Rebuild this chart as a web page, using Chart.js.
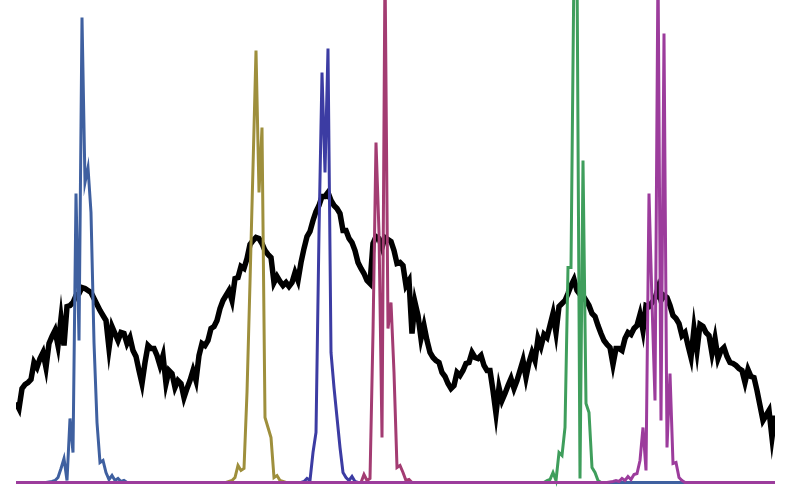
<!DOCTYPE html>
<html>
<head>
<meta charset="utf-8">
<script src="https://cdn.jsdelivr.net/npm/chart.js@4.4.1/dist/chart.umd.min.js"></script>
<style>
  html, body { margin: 0; padding: 0; background: #ffffff; }
  #wrap { width: 789px; height: 487px; position: relative; }
</style>
</head>
<body>
<div id="wrap"><canvas id="lineChart"></canvas></div>
<script>
// total signal, one value per sample
const total = [
  80, 74, 94, 98, 100, 103, 120, 115, 124, 130, 115, 139, 146, 152, 137, 164, 137, 176, 177, 180,
  187, 189, 195, 194, 192, 190, 184, 178, 172, 167, 162, 134, 156, 149, 142, 150, 149, 139, 145, 132,
  126, 112, 99, 120, 137, 134, 134, 127, 117, 127, 99, 112, 109, 95, 102, 99, 85, 94, 102, 112,
  102, 127, 139, 137, 142, 154, 156, 162, 174, 182, 187, 192, 182, 204, 205, 216, 214, 224, 238, 242,
  245, 244, 239, 232, 228, 225, 200, 206, 201, 197, 200, 196, 200, 210, 202, 220, 234, 246, 251, 262,
  271, 277, 286, 286, 290, 282, 277, 274, 269, 252, 252, 244, 240, 232, 220, 214, 209, 202, 199, 239,
  246, 244, 235, 245, 243, 241, 232, 219, 220, 217, 197, 202, 149, 180, 167, 144, 157, 142, 130, 125,
  122, 120, 110, 106, 99, 94, 97, 110, 107, 112, 119, 120, 130, 125, 124, 127, 117, 112, 112, 92,
  69, 95, 82, 89, 97, 104, 94, 102, 112, 122, 105, 120, 130, 122, 144, 136, 148, 145, 157, 169,
  150, 176, 179, 182, 189, 197, 203, 192, 188, 187, 182, 177, 169, 166, 157, 149, 142, 138, 135, 118,
  134, 134, 132, 144, 150, 148, 154, 157, 168, 152, 177, 176, 180, 184, 194, 182, 187, 185, 177, 167,
  164, 159, 147, 150, 137, 125, 154, 132, 158, 156, 150, 147, 129, 144, 124, 132, 135, 126, 120, 119,
  117, 114, 112, 100, 113, 106, 105, 92, 77, 62, 67, 72, 45, 67
];

// component peaks: first sample index + values
const blueStart = 10;
const blueVals = [0, 0.5, 1, 2, 5, 14, 24, 2, 64, 30, 289, 142, 465, 300, 315, 270, 140, 60, 20, 22, 10, 3, 7, 2, 4, 1, 2, 0];
const oliveStart = 70;
const oliveVals = [0, 1, 2, 5, 17, 12, 14, 90, 200, 315, 432, 290, 355, 65, 55, 45, 5, 7, 2, 1, 0];
const indigoStart = 95;
const indigoVals = [0, 1, 4, 2, 30, 50, 250, 410, 310, 434, 130, 95, 65, 35, 10, 5, 2, 6, 1, 0];
const crimsonStart = 115;
const crimsonVals = [0, 8, 2, 4, 150, 340, 250, 45, 520, 154, 180, 110, 15, 17, 10, 2, 3, 0];
const greenStart = 176;
const greenVals = [0, 2, 3, 10, 2, 30, 27, 55, 215, 215, 520, 520, 4, 322, 79, 70, 15, 10, 2, 0];
const purpleStart = 197;
const purpleVals = [0, 0.5, 1, 2, 1, 4, 2, 6, 3, 8, 9, 22, 55, 12, 289, 180, 82, 520, 62, 449, 35, 109, 19, 20, 5, 2, 0];

function toPoints(values, start) {
  const pts = [];
  for (let i = 0; i < total.length; i++) {
    const j = i - start;
    pts.push({ x: i, y: (j >= 0 && j < values.length) ? values[j] : 0 });
  }
  return pts;
}

function peak(label, color, values, start, order) {
  return {
    label: label,
    data: toPoints(values, start),
    borderColor: color,
    borderWidth: 3,
    clip: false,
    order: order
  };
}

document.addEventListener('DOMContentLoaded', () => {
  const ctx = document.getElementById('lineChart');
  new Chart(ctx, {
    type: 'line',
    data: {
      datasets: [
        peak('P6', '#9c3c9c', purpleVals, purpleStart, 0),
        peak('P1', '#3f60a0', blueVals, blueStart, 1),
        peak('P5', '#3f9e5c', greenVals, greenStart, 2),
        peak('P4', '#a33c72', crimsonVals, crimsonStart, 3),
        peak('P3', '#3c3ca3', indigoVals, indigoStart, 4),
        peak('P2', '#9e8f3c', oliveVals, oliveStart, 5),
        {
          label: 'Total',
          data: total.map((v, i) => ({ x: i, y: v })),
          borderColor: '#000000',
          borderWidth: 5.5,
          order: 6
        }
      ]
    },
    options: {
      responsive: true,
      maintainAspectRatio: false,
      animation: false,
      pointRadius: 0,
      tension: 0,
      layout: {
        padding: { left: 16, right: 14, top: 0, bottom: 4.5 }
      },
      scales: {
        x: { type: 'linear', display: false, min: 0, max: total.length - 1 },
        y: { display: false, min: 0, max: 482.5 }
      },
      plugins: {
        legend: { display: false },
        tooltip: { enabled: false }
      }
    }
  });
});
</script>
</body>
</html>
